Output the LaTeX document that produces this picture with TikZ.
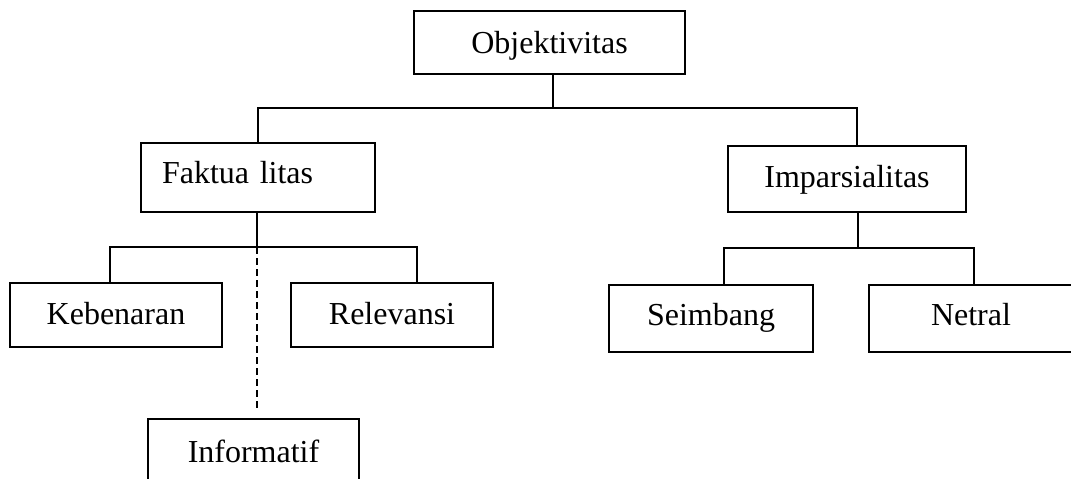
\documentclass[tikz,border=0pt]{standalone}
\usepackage{fontspec}
\setmainfont{Liberation Serif}
\begin{document}
\begin{tikzpicture}[x=1pt,y=-1pt,
  box/.style={draw, line width=1.8pt, inner sep=0pt, text height=22pt, font=\fontsize{32}{38}\selectfont},
  conn/.style={line width=1.8pt},
  dconn/.style={line width=1.6pt, dash pattern=on 7pt off 4pt}]
\useasboundingbox (0,0) rectangle (1071,479);
\clip (0,0) rectangle (1071,479);
\node[box, text depth=1pt, minimum width=271, minimum height=63] (obj) at (549.5,42.5) {Objektivitas};
\node[box, text depth=11pt, minimum width=234, minimum height=69, text width=192, inner xsep=21pt, align=left] (fak) at (258,177.5) {Faktua litas};
\node[box, text depth=6pt, minimum width=238, minimum height=66] (imp) at (847,179) {Imparsialitas};
\node[box, text depth=4pt, minimum width=212, minimum height=64] (keb) at (116,315) {Kebenaran};
\node[box, text depth=4pt, minimum width=202, minimum height=64] (rel) at (392,315) {Relevansi};
\node[box, text depth=0pt, minimum width=211, minimum height=64] (inf) at (253.5,451) {Informatif};
\node[box, text depth=9pt, minimum width=204, minimum height=67] (sei) at (711,318.5) {Seimbang};
\node[box, text depth=9pt, minimum width=204, minimum height=67] (net) at (971,318.5) {Netral};
\coordinate (j0) at (553,108);
\coordinate (j1) at (257,247);
\coordinate (j2) at (858,248);
\draw[conn] (obj.south -| j0) -- (j0);
\draw[conn] (fak.north) |- (j0) -| ([xshift=10pt]imp.north);
\draw[conn] (fak.south -| j1) -- (j1);
\draw[conn] ([xshift=-6pt]keb.north) |- (j1) -| ([xshift=25pt]rel.north);
\draw[dconn] (j1) -- ([yshift=7pt]inf.north -| j1);
\draw[conn] (imp.south -| j2) -- (j2);
\draw[conn] ([xshift=13pt]sei.north) |- (j2) -| ([xshift=3pt]net.north);
\end{tikzpicture}
\end{document}
